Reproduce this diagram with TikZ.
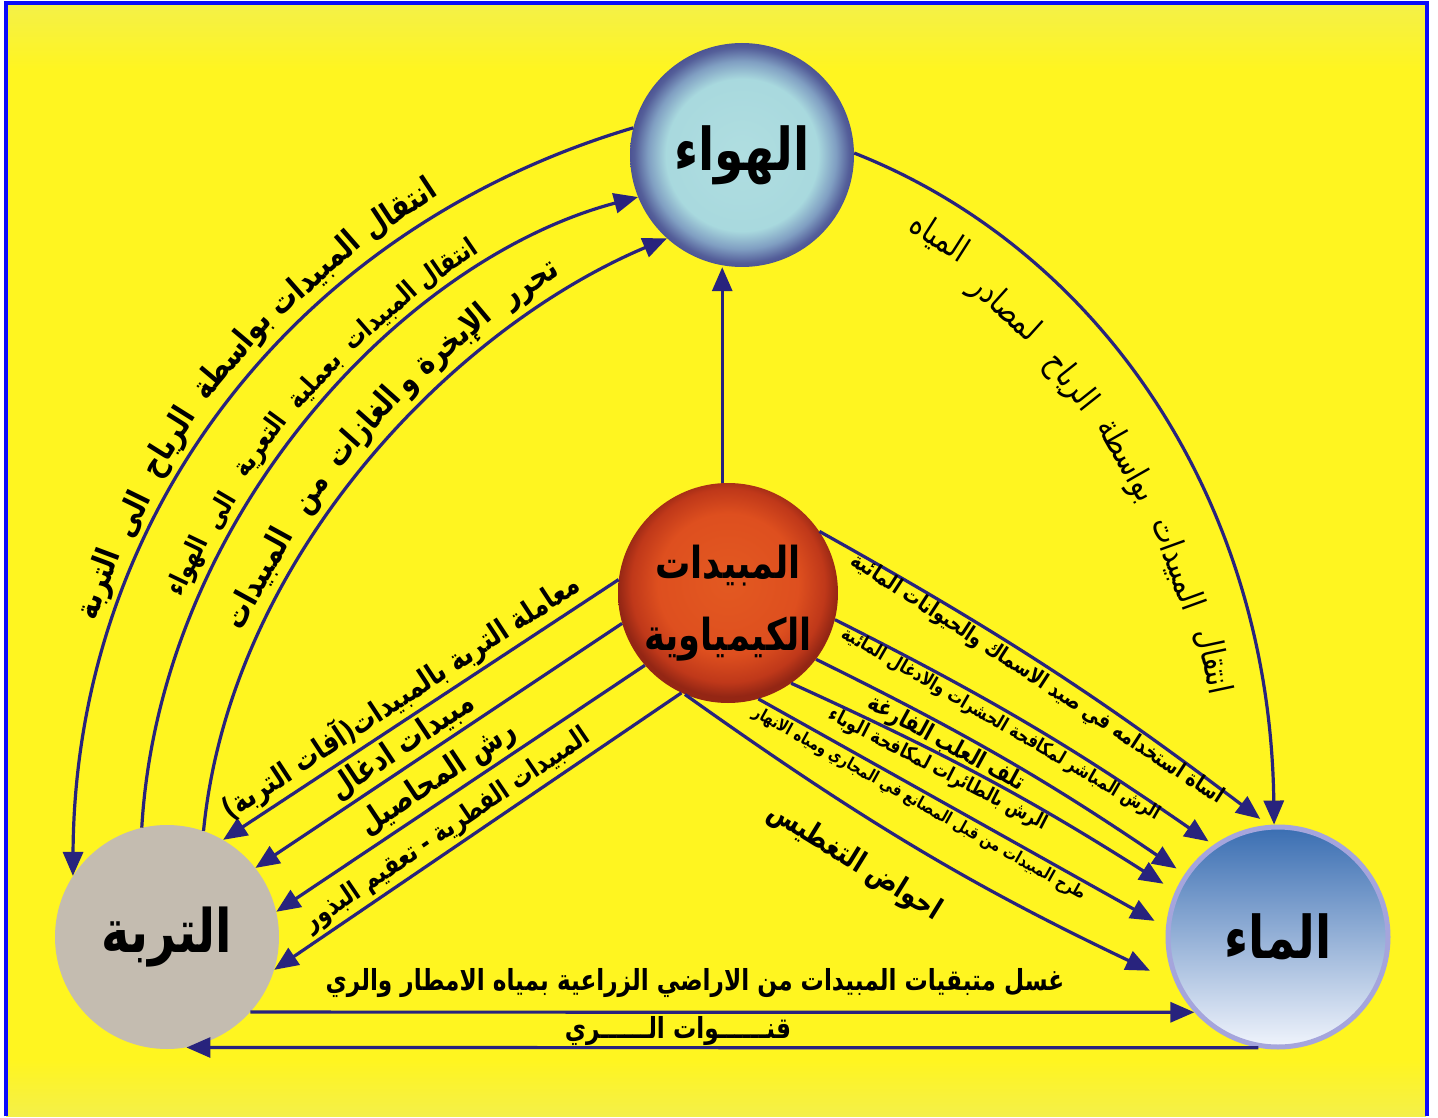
\documentclass[tikz,border=0pt]{standalone}
\usepackage{fontspec}
\usetikzlibrary{arrows.meta,calc}
\TeXXeTstate=1
\newfontfamily\arfont[Script=Arabic,FakeStretch=0.8]{DejaVu Sans}
\newcommand{\AR}[2]{{\fontsize{#1}{#1}\selectfont\arfont\bfseries #2}}
\newcommand{\ARm}[2]{{\fontsize{#1}{#1}\selectfont\arfont #2}}
\definecolor{navy}{RGB}{40,35,125}
\definecolor{bgy}{RGB}{255,245,32}
\definecolor{bgpale}{RGB}{244,240,72}
\definecolor{frameblue}{RGB}{10,10,250}
\definecolor{wtop}{RGB}{58,110,178}
\definecolor{wbot}{RGB}{240,244,252}
\definecolor{wrim}{RGB}{165,165,220}
\definecolor{soilc}{RGB}{196,188,176}
\pgfdeclareradialshading{airsh}{\pgfpointorigin}{rgb(0bp)=(0.69,0.87,0.88); rgb(17bp)=(0.66,0.85,0.87); rgb(21bp)=(0.5,0.62,0.76); rgb(24bp)=(0.33,0.37,0.6); rgb(25bp)=(0.3,0.33,0.58); rgb(50bp)=(0.3,0.33,0.58)}
\pgfdeclareradialshading{pestsh}{\pgfpoint{0bp}{3bp}}{rgb(0bp)=(0.89,0.35,0.13); rgb(16bp)=(0.87,0.31,0.12); rgb(22bp)=(0.75,0.22,0.1); rgb(25bp)=(0.58,0.15,0.08); rgb(50bp)=(0.58,0.15,0.08)}
\tikzset{
  arr/.style={draw=navy, line width=3.2pt, -{Triangle[length=24pt,width=20pt]}},
  bubble/.style={circle, minimum size=224pt, inner sep=0pt},
  wd/.style={sloped, inner sep=0pt},
  lbl/.style={inner sep=0pt}
}
\begin{document}
\begin{tikzpicture}[x=1pt,y=-1pt]
\useasboundingbox (0,0) rectangle (1438,1118);
\fill[white] (0,0) rectangle (1438,1118);
\fill[bgy] (6,4) rectangle (1426,1116);
\shade[top color=bgpale, bottom color=bgy] (6,4) rectangle (1426,70);
\shade[top color=bgy, bottom color=bgpale] (6,1060) rectangle (1426,1116);
\draw[frameblue, line width=4pt] (6,1116) -- (6,3) -- (1427,3) -- (1427,1116);

% main nodes
\node[bubble, shading=airsh] (air) at (742,155) {\AR{59}{\beginR الهواء\endR}};
\node[bubble, minimum size=220pt, shading=pestsh] (pest) at (728,593) {};
\node[lbl, align=center] (pestlbl) at (728,603) {\AR{44}{\beginR المبيدات\endR}\\[30pt]\AR{44}{\beginR الكيمياوية\endR}};
\node[bubble, fill=soilc] (soil) at (167,937) {\AR{60}{\beginR التربة\endR}};
\node[bubble, top color=wtop, bottom color=wbot, draw=wrim, line width=5pt, minimum size=220pt] (water) at (1278,937) {\AR{59}{\beginR الماء\endR}};

% vertical arrow
\draw[arr] (pest.93) -- (pest.93 |- air.south);

% arc 1: air -> soil
\draw[arr] (air.166) .. controls (290,230) and (75,520) .. (soil.147)
  node[wd, pos=0.235, above=7pt] (a1a) {\AR{33}{\beginR انتقال\endR}}
  node[wd, pos=0.34, above=7pt] (a1b) {\AR{33}{\beginR المبيدات\endR}}
  node[wd, pos=0.455, above=7pt] (a1c) {\AR{33}{\beginR بواسطة\endR}}
  node[wd, pos=0.562, above=7pt] (a1d) {\AR{33}{\beginR الرياح\endR}}
  node[wd, pos=0.642, above=7pt] (a1e) {\AR{33}{\beginR الى\endR}}
  node[wd, pos=0.718, above=7pt] (a1f) {\AR{33}{\beginR التربة\endR}};

% arc 2: soil -> air
\draw[arr] (soil.103) .. controls (160,520) and (400,260) .. (air.202)
  node[wd, pos=0.745, above=6pt] (a2a) {\AR{27}{\beginR انتقال\endR}}
  node[wd, pos=0.645, above=6pt] (a2b) {\AR{27}{\beginR المبيدات\endR}}
  node[wd, pos=0.54, above=6pt] (a2c) {\AR{27}{\beginR بعملية\endR}}
  node[wd, pos=0.445, above=6pt] (a2d) {\AR{27}{\beginR التعرية\endR}}
  node[wd, pos=0.36, above=6pt] (a2e) {\AR{27}{\beginR الى\endR}}
  node[wd, pos=0.29, above=6pt] (a2f) {\AR{27}{\beginR الهواء\endR}};

% arc 3: soil -> air
\draw[arr] (soil.71) .. controls (230,560) and (450,330) .. (air.228)
  node[wd, pos=0.81, above=7pt] (a3a) {\AR{33}{\beginR تحرر\endR}}
  node[wd, pos=0.69, above=7pt] (a3b) {\AR{33}{\beginR الإبخرة\endR}}
  node[wd, pos=0.612, above=7pt] (a3c) {\AR{33}{\beginR و\endR}}
  node[wd, pos=0.537, above=7pt] (a3d) {\AR{33}{\beginR الغازات\endR}}
  node[wd, pos=0.435, above=7pt] (a3e) {\AR{33}{\beginR من\endR}}
  node[wd, pos=0.315, above=7pt] (a3f) {\AR{33}{\beginR المبيدات\endR}};

% arc 4: air -> water
\draw[arr] (air.1) .. controls (1100,250) and (1270,500) .. (water.92)
  node[wd, pos=0.15, below=20pt] (a4a) {\ARm{34}{\beginR المياه\endR}}
  node[wd, pos=0.28, below=36pt] (a4b) {\ARm{34}{\beginR لمصادر\endR}}
  node[wd, pos=0.415, below=38pt] (a4c) {\ARm{34}{\beginR الرياح\endR}}
  node[wd, pos=0.543, below=36pt] (a4d) {\ARm{34}{\beginR بواسطة\endR}}
  node[wd, pos=0.69, below=34pt] (a4e) {\ARm{34}{\beginR المبيدات\endR}}
  node[wd, pos=0.815, below=26pt] (a4f) {\ARm{34}{\beginR انتقال\endR}};

% pesticides -> soil
\draw[arr] (pest.173) -- (soil.60)
  node[wd, pos=0.52, above=3pt] (t1) {\AR{30}{\beginR معاملة التربة بالمبيدات(آفات التربة)\endR}};
\draw[arr] (pest.196) -- (soil.38)
  node[wd, pos=0.57, above=3pt] (t2) {\AR{32}{\beginR مبيدات ادغال\endR}};
\draw[arr] (pest.221) -- (soil.13)
  node[wd, pos=0.53, above=3pt] (t3) {\AR{32}{\beginR رش المحاصيل\endR}};
\draw[arr] (pest.-115) -- (soil.-17)
  node[wd, pos=0.55, above=3pt] (t4) {\AR{27}{\beginR المبيدات الفطرية - تعقيم البذور\endR}};

% pesticides -> water
\draw[arr, shorten >=10pt] (pest.34) to[bend left=4]
  node[wd, pos=0.49, below=3pt] (w1) {\AR{22}{\beginR اساة استخدامه في صيد الاسماك والحيوانات المائية\endR}} (water.95);
\draw[arr, shorten >=6pt] (pest.-14) to[bend left=4]
  node[wd, pos=0.44, below=3pt] (w2) {\AR{19}{\beginR الرش المباشر لمكافحة الحشرات والادغال المائية\endR}} (water.125);
\draw[arr, shorten >=10pt] (pest.-37) to[bend left=4]
  node[wd, pos=0.35, below=2pt] (w3) {\AR{24}{\beginR تلف العلب الفارغة\endR}} (water.146);
\draw[arr, shorten >=14pt] (pest.-55) to[bend left=4]
  node[wd, pos=0.38, below=3pt] (w4) {\AR{20}{\beginR الرش بالطائرات لمكافحة الوباء\endR}} (water.156);
\draw[arr, shorten >=13pt] (pest.-74) --
  node[wd, pos=0.41, below=3pt] (w5) {\AR{17}{\beginR طرح المبيدات من قبل المصانع في المجاري ومياه الانهار\endR}} (water.175);
\draw[arr, shorten >=28pt] (pest.-113) to[bend right=5]
  node[wd, pos=0.40, below=28pt] (w6) {\AR{30}{\beginR احواض التغطيس\endR}} (water.204);

% bottom arrows
\draw[arr] (soil.-42) -- (water.222);
\draw[arr] (water.-100) -- (soil.-80);
\node[lbl] (b1) at (695,983) {\AR{29}{\beginR غسل متبقيات المبيدات من الاراضي الزراعية بمياه الامطار والري\endR}};
\node[lbl] (b2) at (678,1031) {\AR{29}{\beginR قنــــــوات الــــــري\endR}};
\end{tikzpicture}
\end{document}
